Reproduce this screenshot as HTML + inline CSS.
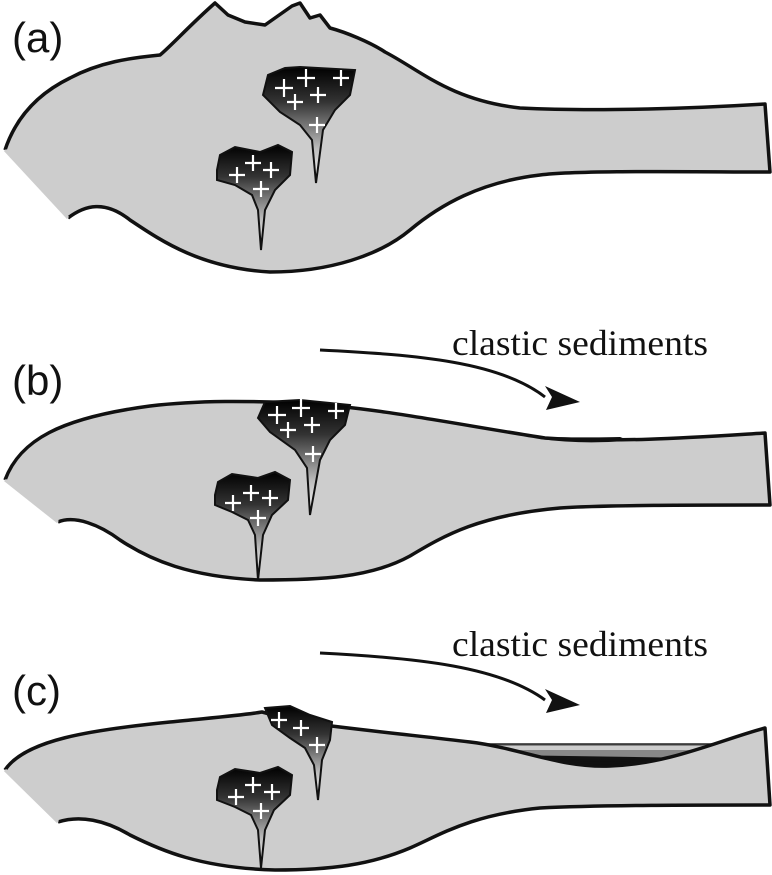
<!DOCTYPE html>
<html><head><style>
html,body{margin:0;padding:0;background:#fff;}
svg{display:block;}
text{font-family:"Liberation Sans",sans-serif;}
.lab{font-size:42px;fill:#111;}
.cl{font-family:"Liberation Serif",serif;font-size:36px;fill:#111;}
.body{fill:#cdcdcd;stroke:#111;stroke-width:3.5;stroke-linejoin:round;}
.pl{stroke:#111;stroke-width:2;}
.plus{stroke:#fff;stroke-width:2.2;}
</style></head><body>
<svg width="772" height="875" viewBox="0 0 772 875" xmlns="http://www.w3.org/2000/svg">
<defs>
<linearGradient id="g" x1="0" y1="0" x2="0" y2="1">
<stop offset="0" stop-color="#000"/><stop offset="0.3" stop-color="#333"/><stop offset="0.7" stop-color="#bbb"/><stop offset="1" stop-color="#fff"/>
</linearGradient>
</defs>

<!-- (a) -->
<text class="lab" x="12" y="52">(a)</text>
<path class="body" d="M5,150 C15,120 35,95 70,78 C100,62 130,58 160,55 C172,45 190,25 215,3 L228,15 L245,22 L265,25 L292,6 L300,3 L310,18 L320,15 L330,28 C345,32 370,42 385,52 C420,70 450,100 520,108 C600,112 700,108 765,104 L770,172 C700,172 580,170 540,175 C480,182 440,205 410,230 C380,255 330,272 270,272 C200,268 160,240 130,220 C105,200 85,205 68,218"/>
<path d="M68,218 L5,150" stroke="#cdcdcd" stroke-width="3"/>
<path class="pl" fill="url(#g)" d="M263,95 L268,75 L285,68 L300,67 L355,70 L350,95 L335,110 L323,130 L316,183 L312,140 L300,125 L280,112 Z"/>
<path class="pl" fill="url(#g)" d="M217,170 L220,155 L235,147 L260,152 L278,145 L292,152 L290,175 L275,190 L265,210 L261,250 L258,210 L252,195 L235,185 L217,180 Z"/>
<g class="plus">
<path d="M275,88h18M284,79v18M297,78h18M306,69v18M333,78h16M341,70v16M287,102h16M295,94v16M310,95h16M318,87v16M309,125h16M317,117v16"/>
<path d="M229,175h16M237,167v16M245,163h16M253,155v16M263,170h16M271,162v16M253,189h16M261,181v16"/>
</g>

<!-- (b) -->
<text class="lab" x="12" y="395">(b)</text>
<text class="cl" x="452" y="355" textLength="256" lengthAdjust="spacingAndGlyphs">clastic sediments</text>
<path d="M320,350 C420,355 500,362 545,397" fill="none" stroke="#111" stroke-width="3"/>
<path d="M580,402 L545,386 L552,397 L546,410 Z" fill="#111"/>
<path class="body" d="M5,480 C20,440 60,418 150,406 C200,400 250,401 300,403 C380,408 460,425 545,438 C620,443 700,437 765,433 L770,505 C700,505 600,505 560,508 C480,515 445,535 410,556 C370,578 320,580 260,580 C190,577 150,560 120,540 C100,525 75,515 58,522"/>
<path d="M58,522 L5,480" stroke="#cdcdcd" stroke-width="3"/>
<path d="M540,438 C570,442 600,442 625,440 L620,438 C590,439 565,438 540,438Z" fill="#111" stroke="#111" stroke-width="2"/>
<path class="pl" fill="url(#g)" d="M258,418 L265,402 L300,400 L350,405 L345,425 L330,440 L320,460 L310,515 L307,468 L295,450 L270,432 Z"/>
<path class="pl" fill="url(#g)" d="M215,495 L218,482 L232,474 L258,478 L275,472 L290,480 L288,500 L272,515 L263,535 L258,580 L255,535 L248,520 L232,512 L215,505 Z"/>
<g class="plus">
<path d="M268,415h18M277,406v18M292,408h18M301,399v18M328,411h16M336,403v16M280,430h16M288,422v16M304,425h16M312,417v16M305,454h16M313,446v16"/>
<path d="M225,503h16M233,495v16M243,493h16M251,485v16M262,498h16M270,490v16M250,518h16M258,510v16"/>
</g>

<!-- (c) -->
<text class="lab" x="12" y="705">(c)</text>
<text class="cl" x="452" y="656" textLength="256" lengthAdjust="spacingAndGlyphs">clastic sediments</text>
<path d="M320,653 C420,658 500,667 545,700" fill="none" stroke="#111" stroke-width="3"/>
<path d="M580,705 L545,689 L552,700 L546,713 Z" fill="#111"/>
<path d="M485,744 L725,744 C700,755 650,765 600,765 C560,765 520,755 485,744Z" fill="#888" stroke="#222" stroke-width="1.5"/>
<path d="M500,748 L715,748" stroke="#ccc" stroke-width="4"/>
<path d="M535,757 C570,764 620,766 665,759 L535,757Z" fill="#111" stroke="#111" stroke-width="3"/>
<path class="body" d="M5,770 C25,740 90,730 170,722 C220,717 245,715 262,712 L300,722 C360,730 420,736 470,742 C520,748 560,768 610,766 C670,764 720,740 765,728 L770,805 C700,805 600,805 540,808 C470,815 440,835 410,848 C370,865 330,870 275,870 C200,868 160,850 130,835 C105,820 80,815 58,822"/>
<path d="M58,822 L5,770" stroke="#cdcdcd" stroke-width="3"/>
<path class="pl" fill="url(#g)" d="M265,708 L290,706 L310,715 L332,722 L330,740 L322,760 L318,800 L314,765 L305,748 L290,738 L272,725 Z"/>
<path class="pl" fill="url(#g)" d="M217,790 L220,777 L235,769 L260,773 L278,767 L292,775 L290,795 L274,810 L265,830 L261,868 L258,830 L251,815 L235,807 L217,800 Z"/>
<g class="plus">
<path d="M271,720h16M279,712v16M293,728h16M301,720v16M309,745h16M317,737v16"/>
<path d="M228,797h16M236,789v16M245,785h16M253,777v16M264,792h16M272,784v16M253,811h16M261,803v16"/>
</g>
</svg>
</body></html>
